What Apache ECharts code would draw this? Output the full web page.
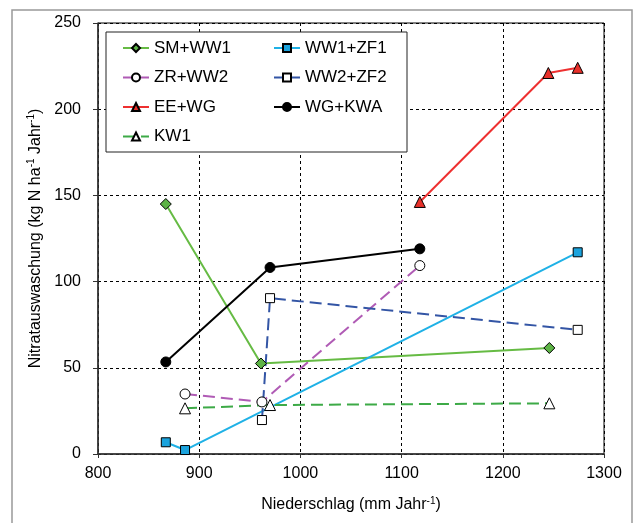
<!DOCTYPE html>
<html><head><meta charset="utf-8">
<script src="https://cdn.jsdelivr.net/npm/echarts@6/dist/echarts.min.js"></script>
<style>html,body{margin:0;padding:0;background:#fff}#c{width:634px;height:523px}</style>
</head><body><div id="c"></div>
<script>
const seriesNames = ['SM+WW1','WW1+ZF1','ZR+WW2','WW2+ZF2','EE+WG','WG+KWA','KW1'];
const smww1X = [867, 961, 1246];   const smww1Y = [145, 52.5, 61.5];
const ww1zf1X = [867, 886, 1274];  const ww1zf1Y = [6.8, 2.3, 117];
const zrww2X = [886, 962, 1118];   const zrww2Y = [34.8, 30.2, 109.3];
const ww2zf2X = [962, 970, 1274];  const ww2zf2Y = [19.7, 90.4, 72];
const eewgX = [1118, 1245, 1274];  const eewgY = [146.2, 221, 224];
const wgkwaX = [867, 970, 1118];   const wgkwaY = [53.4, 108.2, 119];
const kw1X = [886, 970, 1246];     const kw1Y = [26.5, 28.4, 29.4];
const xTicks = [800, 900, 1000, 1100, 1200, 1300];
const yTicks = [0, 50, 100, 150, 200, 250];

const FONT = 'Liberation Sans, Arial, sans-serif';
function pairs(xs, ys){ return xs.map((x,i)=>[x, ys[i]]); }
function mk(name, xs, ys, line, fill, symbol, size, dashed){
  return {
    name, type:'line', data: pairs(xs, ys), symbol, symbolSize: size,
    lineStyle:{color: line, width: 2, type: dashed ? [12,6] : 'solid'},
    itemStyle:{color: fill, borderColor:'#000', borderWidth:1},
    emphasis:{disabled:true}, z: 3
  };
}
const chart = echarts.init(document.getElementById('c'), null, {renderer:'canvas'});
const legendCommon = {
  orient:'vertical', itemWidth:26, itemHeight:10, itemGap:11.5, padding:0,
  textStyle:{fontFamily:FONT, fontSize:17, color:'#000', lineHeight:18},
  z: 10, selectedMode:false
};
chart.setOption({
  animation:false,
  backgroundColor:'#fff',
  textStyle:{fontFamily:FONT},
  grid:{left:98, right:30, top:23, bottom:69, show:true, borderColor:'#000', borderWidth:1},
  graphic:[
    {type:'rect', shape:{x:12, y:10, width:620, height:530}, style:{fill:'none', stroke:'#999', lineWidth:1.5}, z:1},
    {type:'rect', shape:{x:106, y:32, width:301, height:120}, style:{fill:'#fff', stroke:'#222', lineWidth:1}, z:5}
  ],
  legend:[
    Object.assign({left:122, top:39, data:[seriesNames[0], seriesNames[2], seriesNames[4], seriesNames[6]]}, legendCommon),
    Object.assign({left:273, top:39, data:[seriesNames[1], seriesNames[3], seriesNames[5]]}, legendCommon)
  ],
  xAxis:{
    type:'value', min:xTicks[0], max:xTicks[xTicks.length-1], interval:100,
    name:'Niederschlag (mm Jahr{sup|-1})', nameLocation:'middle', nameGap:42,
    nameTextStyle:{fontFamily:FONT, fontSize:16, color:'#000', rich:{sup:{fontSize:10, verticalAlign:'top', padding:[0,0,8,0], fontFamily:FONT, color:'#000'}}},
    axisLine:{show:true, lineStyle:{color:'#333', width:1.5}},
    axisTick:{show:true, inside:false, length:4, lineStyle:{color:'#333'}},
    axisLabel:{fontFamily:FONT, fontSize:16, color:'#000', margin:12, formatter:v=>String(v)},
    splitLine:{show:true, lineStyle:{color:'#000', type:[3,3], width:1}}
  },
  yAxis:{
    type:'value', min:yTicks[0], max:yTicks[yTicks.length-1], interval:50,
    name:'Nitratauswaschung (kg N ha{sup|-1} Jahr{sup|-1})', nameLocation:'middle', nameGap:46,
    nameTextStyle:{fontFamily:FONT, fontSize:16, color:'#000', rich:{sup:{fontSize:10, verticalAlign:'top', padding:[0,0,8,0], fontFamily:FONT, color:'#000'}}},
    axisLine:{show:true, lineStyle:{color:'#333', width:1.5}},
    axisTick:{show:true, inside:false, length:5, lineStyle:{color:'#333'}},
    axisLabel:{fontFamily:FONT, fontSize:16, color:'#000', margin:17, formatter:v=>String(v)},
    splitLine:{show:true, lineStyle:{color:'#000', type:[3,3], width:1}}
  },
  series:[
    mk(seriesNames[0], smww1X, smww1Y, '#66BB44', '#5DB346', 'diamond', 11, false),
    mk(seriesNames[1], ww1zf1X, ww1zf1Y, '#1FB1E6', '#1BA3DD', 'rect', 9, false),
    mk(seriesNames[2], zrww2X, zrww2Y, '#B05BB5', '#fff', 'circle', 10, true),
    mk(seriesNames[3], ww2zf2X, ww2zf2Y, '#3355A5', '#fff', 'rect', 9, true),
    mk(seriesNames[4], eewgX, eewgY, '#EE3030', '#E8302A', 'triangle', 11, false),
    mk(seriesNames[5], wgkwaX, wgkwaY, '#000', '#000', 'circle', 10, false),
    mk(seriesNames[6], kw1X, kw1Y, '#3DAA47', '#fff', 'triangle', 11, true)
  ]
});
</script></body></html>
